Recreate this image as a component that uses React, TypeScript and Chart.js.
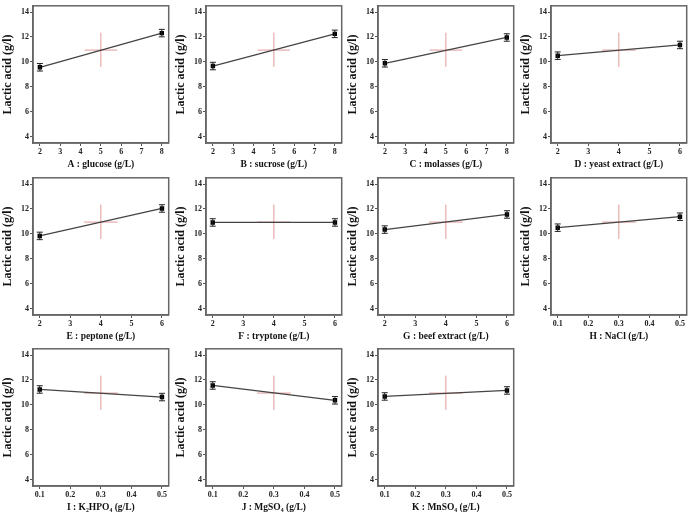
import React, { useEffect, useRef } from "react";
import { Chart, registerables } from "chart.js";
Chart.register(...registerables);

// ---------- data ----------
const factorLabels = [
  "A : glucose (g/L)",
  "B : sucrose (g/L)",
  "C : molasses (g/L)",
  "D : yeast extract (g/L)",
  "E : peptone (g/L)",
  "F : tryptone (g/L)",
  "G : beef extract (g/L)",
  "H : NaCl (g/L)",
  "I : K₂HPO₄ (g/L)",
  "J : MgSO₄ (g/L)",
  "K : MnSO₄ (g/L)",
];
const lowLevels = [2, 2, 2, 2, 2, 2, 2, 0.1, 0.1, 0.1, 0.1];
const highLevels = [8, 8, 8, 6, 6, 6, 6, 0.5, 0.5, 0.5, 0.5];
const centerLevels = [5, 5, 5, 4, 4, 4, 4, 0.3, 0.3, 0.3, 0.3];
const lowMeans = [9.57, 9.67, 9.89, 10.5, 9.84, 10.92, 10.35, 10.5, 11.24, 11.56, 10.68];
const highMeans = [12.31, 12.25, 11.96, 11.36, 12.04, 10.92, 11.56, 11.38, 10.63, 10.37, 11.16];
const lowErrors = [0.3, 0.3, 0.3, 0.3, 0.3, 0.3, 0.3, 0.3, 0.3, 0.3, 0.3];
const highErrors = [0.3, 0.3, 0.3, 0.3, 0.3, 0.3, 0.3, 0.3, 0.3, 0.3, 0.3];
const crossHalfWidths = [0.8, 0.8, 0.8, 0.55, 0.55, 0.55, 0.55, 0.055, 0.055, 0.055, 0.055];
const centerMean = 10.95;
const centerLow = 9.6;
const centerHigh = 12.35;
const xTicksWide = [2, 3, 4, 5, 6, 7, 8];
const xTicksMid = [2, 3, 4, 5, 6];
const xTicksSalt = [0.1, 0.2, 0.3, 0.4, 0.5];
const xTickSets = [xTicksWide, xTicksWide, xTicksWide, xTicksMid, xTicksMid, xTicksMid, xTicksMid, xTicksSalt, xTicksSalt, xTicksSalt, xTicksSalt];
const xMins = [1.66, 1.66, 1.66, 1.78, 1.78, 1.78, 1.78, 0.078, 0.078, 0.078, 0.078];
const xMaxs = [8.34, 8.34, 8.34, 6.22, 6.22, 6.22, 6.22, 0.522, 0.522, 0.522, 0.522];
const yTicks = [4, 6, 8, 10, 12, 14];
const yTitle = "Lactic acid (g/l)";

// ---------- layout ----------
const colLefts = [0, 173, 345, 518];
const rowTops = [0, 172, 343];
const CW = 174;
const CH = 171;
const SERIF = "'Liberation Serif', 'Times New Roman', 'DejaVu Serif', serif";

const frameAndErrors = {
  id: "frameAndErrors",
  afterDatasetsDraw(chart: any) {
    const i = chart.options.plugins.frameAndErrors.index;
    const ctx = chart.ctx;
    const xs = chart.scales.x;
    const ys = chart.scales.y;
    const pts = [
      [lowLevels[i], lowMeans[i], lowErrors[i]],
      [highLevels[i], highMeans[i], highErrors[i]],
    ];
    ctx.save();
    ctx.strokeStyle = "#222";
    ctx.lineWidth = 1;
    for (const [x, y, e] of pts) {
      const px = xs.getPixelForValue(x);
      const p1 = ys.getPixelForValue(y - e);
      const p2 = ys.getPixelForValue(y + e);
      ctx.beginPath();
      ctx.moveTo(px, p1);
      ctx.lineTo(px, p2);
      ctx.moveTo(px - 3, p1);
      ctx.lineTo(px + 3, p1);
      ctx.moveTo(px - 3, p2);
      ctx.lineTo(px + 3, p2);
      ctx.stroke();
    }
    ctx.restore();
  },
  afterDraw(chart: any) {
    const a = chart.chartArea;
    const ctx = chart.ctx;
    ctx.save();
    ctx.strokeStyle = "#666";
    ctx.lineWidth = 1.5;
    ctx.strokeRect(a.left, a.top, a.right - a.left, a.bottom - a.top);
    ctx.restore();
  },
};

function Panel({ index }: { index: number }) {
  const ref = useRef<HTMLCanvasElement>(null);
  useEffect(() => {
    const i = index;
    const c = centerLevels[i];
    const hw = crossHalfWidths[i];
    const chart = new Chart(ref.current!, {
      type: "scatter",
      data: {
        datasets: [
          {
            data: [
              { x: lowLevels[i], y: lowMeans[i] },
              { x: highLevels[i], y: highMeans[i] },
            ],
            showLine: true,
            borderColor: "#444",
            borderWidth: 1.3,
            pointRadius: 2.2,
            pointStyle: "rect",
            pointBackgroundColor: "#000",
            pointBorderColor: "#000",
            order: 0,
          },
          {
            data: [
              { x: c - hw, y: centerMean },
              { x: c + hw, y: centerMean },
            ],
            showLine: true,
            borderColor: "rgba(215,120,120,0.75)",
            borderWidth: 1,
            pointRadius: 0,
            order: 1,
          },
          {
            data: [
              { x: c, y: centerLow },
              { x: c, y: centerHigh },
            ],
            showLine: true,
            borderColor: "rgba(215,120,120,0.75)",
            borderWidth: 1,
            pointRadius: 0,
            order: 1,
          },
        ],
      },
      options: {
        responsive: false,
        animation: false,
        devicePixelRatio: 1,
        layout: { padding: { left: 0, top: 5, right: 2, bottom: 0 } },
        plugins: {
          legend: { display: false },
          tooltip: { enabled: false },
          frameAndErrors: { index: i },
        } as any,
        scales: {
          x: {
            type: "linear",
            min: xMins[i],
            max: xMaxs[i],
            afterBuildTicks: (s: any) => {
              s.ticks = xTickSets[i].map((v) => ({ value: v }));
            },
            afterFit: (s: any) => {
              s.height = 28;
            },
            grid: { drawOnChartArea: false, drawTicks: true, tickLength: 3, color: "#555" },
            border: { display: true, color: "#666", width: 1.5 },
            ticks: {
              padding: 1,
              color: "#222",
              font: { family: SERIF, size: 8, weight: "bold" },
              maxRotation: 0,
              callback: (v: any) => String(v),
            },
            title: {
              display: true,
              text: factorLabels[i],
              color: "#111",
              padding: { top: 0, bottom: 1 },
              font: { family: SERIF, size: 9.5, weight: "bold" },
            },
          },
          y: {
            type: "linear",
            min: 3.5,
            max: 14.5,
            afterBuildTicks: (s: any) => {
              s.ticks = yTicks.map((v) => ({ value: v }));
            },
            afterFit: (s: any) => {
              s.width = 33;
            },
            grid: { drawOnChartArea: false, drawTicks: true, tickLength: 3, color: "#555" },
            border: { display: true, color: "#666", width: 1.5 },
            ticks: {
              padding: 1,
              color: "#222",
              font: { family: SERIF, size: 8, weight: "bold" },
              callback: (v: any) => String(v),
            },
            title: {
              display: true,
              text: yTitle,
              color: "#111",
              padding: { top: 1, bottom: 0 },
              font: { family: SERIF, size: 12, weight: "bold" },
            },
          },
        },
      },
      plugins: [frameAndErrors],
    });
    return () => chart.destroy();
  }, [index]);
  const left = colLefts[index % 4];
  const top = rowTops[Math.floor(index / 4)];
  return (
    <canvas
      ref={ref}
      width={CW}
      height={CH}
      style={{ position: "absolute", left, top, width: CW, height: CH }}
    />
  );
}

export default function App() {
  return (
    <div
      style={{
        position: "absolute",
        left: 0,
        top: 0,
        width: 693,
        height: 512,
        overflow: "hidden",
        background: "#fff",
      }}
    >
      {factorLabels.map((_, i) => (
        <Panel key={i} index={i} />
      ))}
    </div>
  );
}
